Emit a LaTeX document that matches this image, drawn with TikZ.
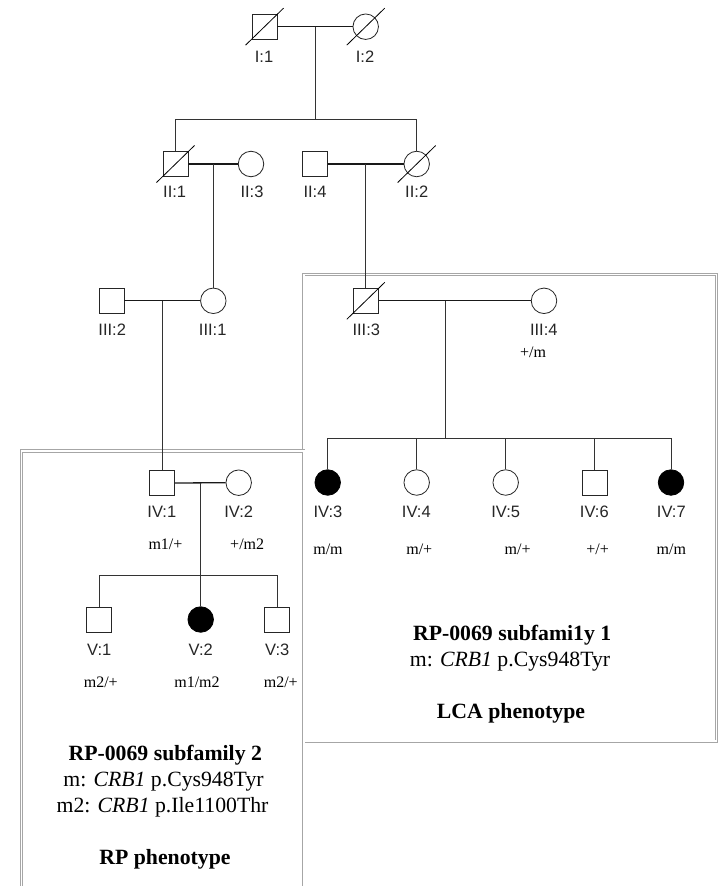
\documentclass[tikz,border=0pt]{standalone}
\usepackage{fontspec}
\setmainfont{Liberation Serif}
\newfontfamily\lblfont{Liberation Sans}
\begin{document}
\begin{tikzpicture}[x=1pt,y=-1pt,
  male/.style={draw=black!85, line width=0.8pt, rectangle, minimum size=25pt, inner sep=0pt, fill=white},
  female/.style={draw=black!85, line width=0.8pt, circle, minimum size=25.5pt, inner sep=0pt, fill=white},
  affected/.style={fill=black, draw=black},
  lbl/.style={font=\lblfont\fontsize{16.5}{18}\selectfont, text=black!85, inner sep=0pt},
  geno/.style={font=\fontsize{16}{18}\selectfont, inner sep=0pt},
  headtxt/.style={font=\bfseries\fontsize{21.75}{26}\selectfont, inner sep=0pt, anchor=base},
  bodytxt/.style={font=\fontsize{21.75}{26}\selectfont, inner sep=0pt, anchor=base},
  rel/.style={line width=1.3pt, black!90},
  desc/.style={line width=0.9pt, black!80},
  dec/.style={line width=0.8pt, black},
  famframe/.style={draw=black!35, line width=0.9pt, double=white, double distance=1.6pt},
]
\useasboundingbox (0,0) rectangle (725,886);
\fill[white] (0,0) rectangle (725,886);

% family frames
\draw[famframe] (303.7,274.5) rectangle (716.3,741.2);
\draw[famframe] (21.5,886) -- (21.5,451) -- (303.7,451) -- (303.7,886);

% generation I
\node[male] (I1) at (264.5,26.7) {};
\node[female] (I2) at (365.7,26.7) {};
% generation II
\node[male] (II1) at (175.5,164) {};
\node[female] (II3) at (251,164) {};
\node[male] (II4) at (315,164) {};
\node[female] (II2) at (416.7,164) {};
% generation III
\node[male] (III2) at (111.5,300.8) {};
\node[female] (III1) at (213.3,300.8) {};
\node[male] (III3) at (365.8,300.8) {};
\node[female] (III4) at (544,300.8) {};
% generation IV
\node[male] (IV1) at (162.3,483) {};
\node[female] (IV2) at (238.7,482.7) {};
\node[female, affected] (IV3) at (327.7,482.5) {};
\node[female] (IV4) at (416.7,482.5) {};
\node[female] (IV5) at (505.7,482.5) {};
\node[male] (IV6) at (594.8,482.8) {};
\node[female, affected] (IV7) at (671,482.5) {};
% generation V
\node[male] (V1) at (99.2,620) {};
\node[female, affected] (V2) at (200.7,619.5) {};
\node[male] (V3) at (277,620) {};

% connectors
\coordinate (cI) at (315,26.7);
\coordinate (sII) at (315,119.3);
\draw[rel] (I1.east) -- (I2.west);
\draw[desc] (cI) -- (sII);
\draw[desc] (II1.north) -- (II1.north |- sII) -- (II2.north |- sII) -- (II2.north);

\draw[rel] (II1.east) -- (II3.west);
\draw[desc] (III1.north |- II1.center) -- (III1.north);
\draw[rel] (II4.east) -- (II2.west);
\draw[desc] (III3.north |- II4.center) -- (III3.north);

\draw[rel] (III2.east) -- (III1.west);
\draw[desc] (IV1.north |- III2.center) -- (IV1.north);

\coordinate (cIII) at (445,300.8);
\coordinate (sIV) at (445,438.3);
\draw[rel] (III3.east) -- (III4.west);
\draw[desc] (cIII) -- (sIV);
\draw[desc] (IV3.north) -- (IV3.north |- sIV) -- (IV7.north |- sIV) -- (IV7.north);
\draw[desc] (IV4.north |- sIV) -- (IV4.north);
\draw[desc] (IV5.north |- sIV) -- (IV5.north);
\draw[desc] (IV6.north |- sIV) -- (IV6.north);

\coordinate (sV) at (200.7,575);
\draw[rel] (IV1.east) -- (IV2.west);
\draw[desc] (V2.north |- IV1.center) -- (V2.north);
\draw[desc] (V1.north) -- (V1.north |- sV) -- (V3.north |- sV) -- (V3.north);

% deceased
\foreach \p in {I1,I2,II1,II2,III3}
  \draw[dec] ([shift={(-19,18.5)}]\p.center) -- ([shift={(19,-18.5)}]\p.center);

% labels
\node[lbl] (lI1) at (264,57) {I:1};
\node[lbl] (lI2) at (365,57) {I:2};
\node[lbl] (lII1) at (174.7,191.8) {II:1};
\node[lbl] (lII3) at (252,191.8) {II:3};
\node[lbl] (lII4) at (315,191.8) {II:4};
\node[lbl] (lII2) at (416.7,191.8) {II:2};
\node[lbl] (lIII2) at (112.2,329.7) {III:2};
\node[lbl] (lIII1) at (212.7,329.7) {III:1};
\node[lbl] (lIII3) at (366.3,329.8) {III:3};
\node[lbl] (lIII4) at (543.8,329.8) {III:4};
\node[lbl] (lIV1) at (161.8,511.8) {IV:1};
\node[lbl] (lIV2) at (238.7,511.8) {IV:2};
\node[lbl] (lIV3) at (328,511.5) {IV:3};
\node[lbl] (lIV4) at (416.3,511.5) {IV:4};
\node[lbl] (lIV5) at (505.7,511.5) {IV:5};
\node[lbl] (lIV6) at (594.3,511.5) {IV:6};
\node[lbl] (lIV7) at (671.3,511.5) {IV:7};
\node[lbl] (lV1) at (99.2,649.5) {V:1};
\node[lbl] (lV2) at (200.8,649.5) {V:2};
\node[lbl] (lV3) at (277.2,649.5) {V:3};

% genotypes
\node[geno] (gIII4) at (533,352.5) {+/m};
\node[geno] (gIV1) at (165.5,544.5) {m1/+};
\node[geno] (gIV2) at (247.2,544.5) {+/m2};
\node[geno] (gIV3) at (328,549.2) {m/m};
\node[geno] (gIV4) at (419.3,549.2) {m/+};
\node[geno] (gIV5) at (517.7,549.2) {m/+};
\node[geno] (gIV6) at (597.7,549.2) {+/+};
\node[geno] (gIV7) at (671.3,549.2) {m/m};
\node[geno] (gV1) at (100.8,682.5) {m2/+};
\node[geno] (gV2) at (197,682.5) {m1/m2};
\node[geno] (gV3) at (280.8,682.5) {m2/+};

% subfamily 1 text
\node[headtxt] (t1a) at (512.2,640) {RP-0069 subfami1y 1};
\node[bodytxt] (t1b) at (510,666) {m: \textit{CRB1} p.Cys948Tyr};
\node[headtxt] (t1c) at (511,718) {LCA phenotype};

% subfamily 2 text
\node[headtxt] (t2a) at (165.3,760) {RP-0069 subfamily 2};
\node[bodytxt] (t2b) at (163.5,786) {m: \textit{CRB1} p.Cys948Tyr};
\node[bodytxt] (t2c) at (162.5,812.7) {m2: \textit{CRB1} p.Ile1100Thr};
\node[headtxt] (t2d) at (165,864.3) {RP phenotype};
\end{tikzpicture}
\end{document}
